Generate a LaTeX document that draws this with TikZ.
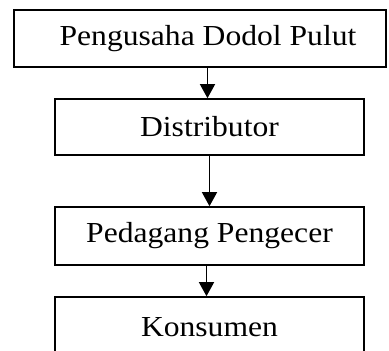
\documentclass[tikz,border=0pt]{standalone}
\usepackage{fontspec}
\setmainfont{Liberation Serif}
\usetikzlibrary{arrows.meta}

\newcommand{\widetext}[1]{\scalebox{1.09}[1]{#1}}

\tikzset{
  box/.style={draw, line width=1.6pt, inner sep=0pt, font=\fontsize{29pt}{32pt}\selectfont},
  arr/.style={line width=1.4pt, -{Triangle[width=15pt,length=14pt]}}
}

\begin{document}
\begin{tikzpicture}[x=1pt, y=-1pt]
        \useasboundingbox (0,0) rectangle (389,351);

        \node [box, minimum width=372pt, minimum height=57pt] (pengusaha)   at (200,38.5)  {\hspace{16pt}\widetext{Pengusaha Dodol Pulut}};
        \node [box, minimum width=309pt, minimum height=56pt] (distributor) at (209.5,127) {\widetext{Distributor}};
        \node [box, minimum width=309pt, minimum height=58pt] (pengecer)    at (209.5,236) {\widetext{Pedagang Pengecer}};
        \node [box, minimum width=309pt, minimum height=60pt] (konsumen)    at (209.5,327) {\widetext{Konsumen}};

        \draw [arr] ([xshift=-2pt]distributor.north |- pengusaha.south) -- ([xshift=-2pt]distributor.north);
        \draw [arr] (distributor.south) -- (pengecer.north);
        \draw [arr] ([xshift=-3pt]pengecer.south) -- ([xshift=-3pt]konsumen.north);
      \end{tikzpicture}
\end{document}
